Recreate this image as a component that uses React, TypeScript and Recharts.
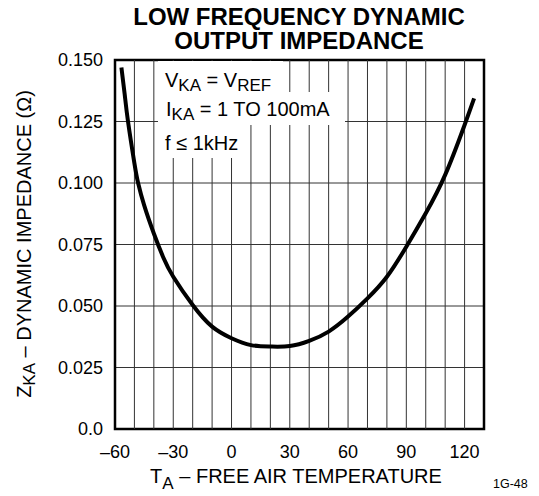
import React from "react";
import {
  LineChart,
  Line,
  XAxis,
  YAxis,
  CartesianGrid,
  ReferenceArea,
  ReferenceLine,
} from "recharts";

// temperature (°C) and dynamic impedance (ohm)
const TEMPS = [
  -56.7, -55, -53.3, -50, -48.1, -45, -40, -35, -30, -20, -10, 0, 10, 20, 30,
  40, 50, 60, 70, 80, 90, 100, 110, 120, 124.9,
];
const ZKA = [
  0.147, 0.136, 0.125, 0.108, 0.1, 0.091, 0.0795, 0.0695, 0.0619, 0.0504,
  0.0416, 0.0369, 0.0341, 0.0335, 0.0337, 0.0358, 0.0396, 0.0457, 0.0531,
  0.0619, 0.0741, 0.0877, 0.1033, 0.1236, 0.1344,
];

const X_TICKS = [-60, -30, 0, 30, 60, 90, 120];
const X_GRID = [
  -50, -40, -30, -20, -10, 0, 10, 20, 30, 40, 50, 60, 70, 80, 90, 100, 110,
  120,
];
const Y_TICKS = [0, 0.025, 0.05, 0.075, 0.1, 0.125, 0.15];

const data = TEMPS.map((t, i) => ({ t, z: ZKA[i] }));

const FONT = "'Liberation Sans', Arial, Helvetica, sans-serif";

const sub = (top: number, size: number): React.CSSProperties => ({
  fontSize: size,
  position: "relative",
  top,
});

export default function App() {
  return (
    <div
      style={{
        position: "absolute",
        left: 0,
        top: 0,
        width: 539,
        height: 496,
        background: "#fff",
        fontFamily: FONT,
        color: "#000",
      }}
    >
      <LineChart
        width={539}
        height={496}
        data={data}
        margin={{ top: 60, right: 55, bottom: 37, left: 0 }}
      >
        <CartesianGrid stroke="#333" strokeWidth={1} vertical={false} />
        {X_GRID.map((v) => (
          <ReferenceLine key={v} x={v} stroke="#333" strokeWidth={1} />
        ))}
        <XAxis
          type="number"
          dataKey="t"
          domain={[-60, 130]}
          ticks={X_TICKS}
          allowDataOverflow
          height={30}
          axisLine={false}
          tickLine={false}
          tickSize={0}
          tickMargin={16}
          tick={{ fill: "#000", fontSize: 18, fontFamily: FONT }}
          tickFormatter={(v: number) => (v < 0 ? `–${Math.abs(v)}` : `${v}`)}
        />
        <YAxis
          type="number"
          domain={[0, 0.15]}
          ticks={Y_TICKS}
          allowDataOverflow
          width={115}
          axisLine={false}
          tickLine={false}
          tickSize={0}
          tickMargin={12}
          tick={{ fill: "#000", fontSize: 18, fontFamily: FONT }}
          tickFormatter={(v: number) => (v === 0 ? "0.0" : v.toFixed(3))}
        />
        <ReferenceArea
          x1={-60}
          x2={130}
          y1={0}
          y2={0.15}
          fill="none"
          stroke="#000"
          strokeWidth={2.5}
        />
        <Line
          type="natural"
          dataKey="z"
          stroke="#000"
          strokeWidth={4}
          dot={false}
          isAnimationActive={false}
        />
      </LineChart>

      {/* title */}
      <div
        style={{
          position: "absolute",
          left: 59,
          top: 4.5,
          width: 480,
          textAlign: "center",
          fontWeight: "bold",
          fontSize: 24,
          lineHeight: "24.5px",
        }}
      >
        LOW FREQUENCY DYNAMIC
        <br />
        OUTPUT IMPEDANCE
      </div>

      {/* white label box over the grid */}
      <div style={{ position: "absolute", left: 158, top: 61.3, width: 125, height: 31, background: "#fff" }} />
      <div style={{ position: "absolute", left: 158, top: 92, width: 187, height: 33, background: "#fff" }} />
      <div style={{ position: "absolute", left: 158, top: 125, width: 89, height: 33, background: "#fff" }} />

      <div style={{ position: "absolute", left: 165, top: 70, fontSize: 20, lineHeight: "20px", whiteSpace: "nowrap" }}>
        V<span style={sub(4, 17)}>KA</span> = V<span style={sub(4, 17)}>REF</span>
      </div>
      <div style={{ position: "absolute", left: 166, top: 99, fontSize: 20, lineHeight: "20px", whiteSpace: "nowrap" }}>
        I<span style={sub(4, 17)}>KA</span> = 1 TO 100mA
      </div>
      <div style={{ position: "absolute", left: 165, top: 133, fontSize: 20, lineHeight: "20px", whiteSpace: "nowrap" }}>
        f ≤ 1kHz
      </div>

      {/* y axis title */}
      <div
        style={{
          position: "absolute",
          left: 24 - 170,
          top: 244 - 10,
          width: 340,
          height: 20,
          lineHeight: "20px",
          fontSize: 20,
          textAlign: "center",
          whiteSpace: "nowrap",
          transform: "rotate(-90deg)",
        }}
      >
        Z<span style={sub(4, 17)}>KA</span> – DYNAMIC IMPEDANCE (Ω)
      </div>

      {/* x axis title */}
      <div
        style={{
          position: "absolute",
          left: 296 - 170,
          top: 476 - 10,
          width: 340,
          lineHeight: "20px",
          fontSize: 20,
          textAlign: "center",
          whiteSpace: "nowrap",
        }}
      >
        T<span style={sub(6, 17)}>A</span> – FREE AIR TEMPERATURE
      </div>

      <div style={{ position: "absolute", left: 493, top: 478, fontSize: 12.5, lineHeight: "12.5px" }}>
        1G-48
      </div>
    </div>
  );
}
